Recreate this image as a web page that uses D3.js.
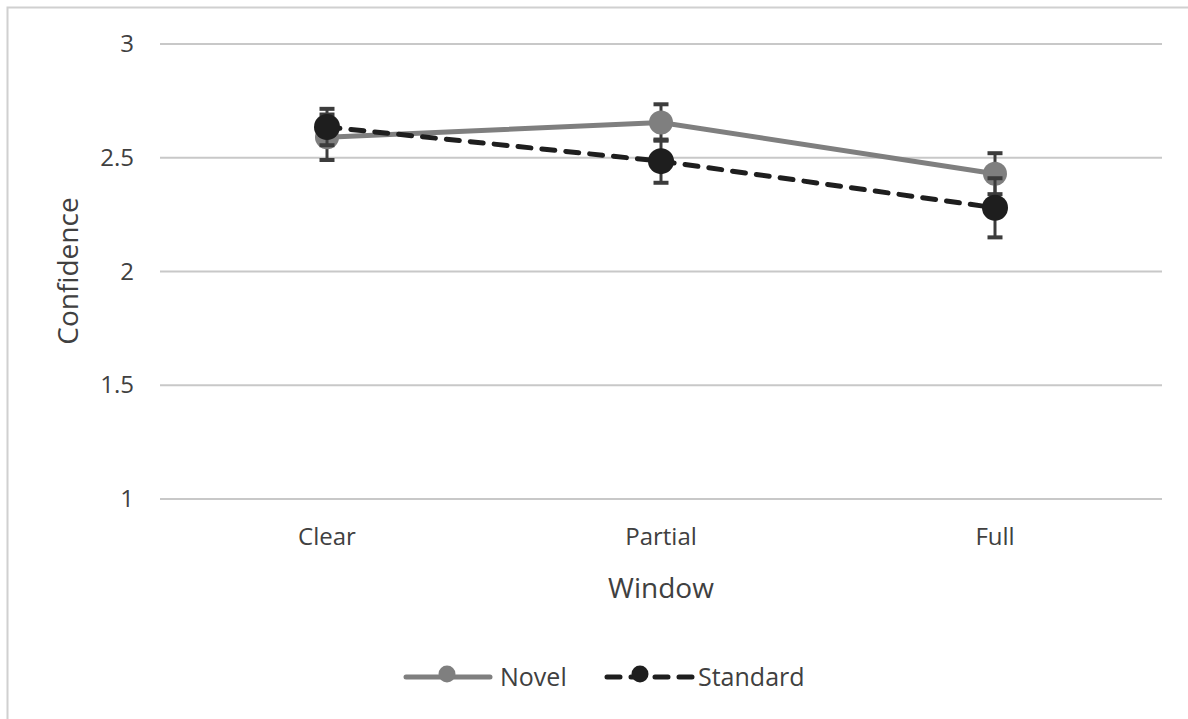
<!DOCTYPE html>
<html><head><meta charset="utf-8">
<script src="https://cdn.jsdelivr.net/npm/d3@7/dist/d3.min.js"></script>
<style>body{margin:0;background:#fff}svg{display:block;font-family:"Open Sans","Noto Sans",sans-serif}</style>
</head><body><svg id="c" width="1188" height="719"></svg>
<script>
const categories = ["Clear", "Partial", "Full"];
const novel = [2.59, 2.655, 2.43];
const novelErr = [0.10, 0.08, 0.09];
const standard = [2.635, 2.485, 2.28];
const standardErr = [0.08, 0.095, 0.13];
const yTicks = [1, 1.5, 2, 2.5, 3];
const seriesNames = ["Novel", "Standard"];

const svg = d3.select("#c");
svg.append("rect").attr("x", 7.5).attr("y", 7.5).attr("width", 1200).attr("height", 750)
  .attr("fill", "none").attr("stroke", "#d0d0d0").attr("stroke-width", 2);

const x = d3.scaleBand().domain(categories).range([160, 1162]);
const y = d3.scaleLinear().domain([1, 3]).range([499, 44]);

svg.append("g").selectAll("line").data(yTicks).join("line")
  .attr("x1", 160).attr("x2", 1162).attr("y1", d => y(d)).attr("y2", d => y(d))
  .attr("stroke", "#c8c8c8").attr("stroke-width", 2);

const yAxis = svg.append("g").attr("transform", "translate(160,0)")
  .call(d3.axisLeft(y).tickValues(yTicks).tickFormat(d3.format("")).tickSize(0).tickPadding(26));
yAxis.select(".domain").remove();
yAxis.selectAll("text").attr("font-size", 24).attr("fill", "#404040").attr("font-family", "Open Sans");

const xAxis = svg.append("g").attr("transform", "translate(0,499)")
  .call(d3.axisBottom(x).tickSize(0).tickPadding(29));
xAxis.select(".domain").remove();
xAxis.selectAll("text").attr("font-size", 24).attr("fill", "#404040").attr("font-family", "Open Sans");

svg.append("text").attr("x", 661).attr("y", 598).attr("text-anchor", "middle")
  .attr("font-size", 28).attr("fill", "#404040").text("Window");
svg.append("text").attr("transform", "translate(78,271) rotate(-90)").attr("text-anchor", "middle")
  .attr("font-size", 28).attr("fill", "#404040").text("Confidence");

const cx = c => x(c) + x.bandwidth() / 2;
const series = [
  {name: seriesNames[0], vals: novel, err: novelErr, color: "#7f7f7f", dash: null, r: 12},
  {name: seriesNames[1], vals: standard, err: standardErr, color: "#1e1e1e", dash: "13,11", r: 13}
];
const line = d3.line().x((d, i) => cx(categories[i])).y(d => y(d));

series.forEach(s => {
  const g = svg.append("g");
  s.vals.forEach((v, i) => {
    const xc = cx(categories[i]);
    const eg = g.append("g").attr("stroke", "#3c3c3c").attr("stroke-width", 3);
    eg.append("line").attr("x1", xc).attr("x2", xc).attr("y1", y(v - s.err[i])).attr("y2", y(v + s.err[i]));
    eg.append("line").attr("x1", xc - 7.5).attr("x2", xc + 7.5).attr("y1", y(v - s.err[i])).attr("y2", y(v - s.err[i])).attr("stroke-width", 4);
    eg.append("line").attr("x1", xc - 7.5).attr("x2", xc + 7.5).attr("y1", y(v + s.err[i])).attr("y2", y(v + s.err[i])).attr("stroke-width", 4);
  });
  g.append("path").datum(s.vals).attr("d", line).attr("fill", "none")
    .attr("stroke", s.color).attr("stroke-width", 5).attr("stroke-linecap", "round")
    .attr("stroke-dasharray", s.dash);
  g.selectAll("circle").data(s.vals).join("circle")
    .attr("cx", (d, i) => cx(categories[i])).attr("cy", d => y(d)).attr("r", s.r)
    .attr("fill", s.color);
});

const legend = [
  {name: seriesNames[0], color: "#7f7f7f", dash: null, x0: 406, x1: 490, mx: 447, tx: 500},
  {name: seriesNames[1], color: "#1e1e1e", dash: "13,11", x0: 607, x1: 695, mx: 640, tx: 698}
];
legend.forEach(l => {
  svg.append("line").attr("x1", l.x0).attr("x2", l.x1).attr("y1", 677).attr("y2", 677)
    .attr("stroke", l.color).attr("stroke-width", 5).attr("stroke-linecap", "round").attr("stroke-dasharray", l.dash);
  svg.append("circle").attr("cx", l.mx).attr("cy", 674).attr("r", 8.5).attr("fill", l.color);
  svg.append("text").attr("x", l.tx).attr("y", 686).attr("font-size", 25).attr("fill", "#404040").text(l.name);
});
</script></body></html>
